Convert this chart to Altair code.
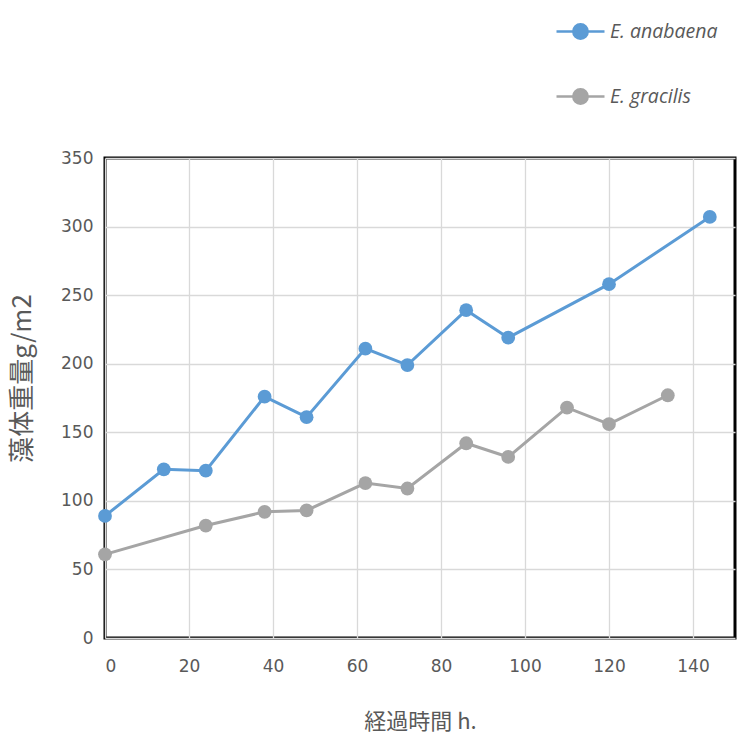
import altair as alt
import pandas as pd

series_names = ["E. anabaena", "E. gracilis"]
colors = ["#5B9BD5", "#A5A5A5"]

ana_hours = [0, 14, 24, 38, 48, 62, 72, 86, 96, 120, 144]
ana_values = [89, 123, 122, 176, 161, 211, 199, 239, 219, 258, 307]

gra_hours = [0, 24, 38, 48, 62, 72, 86, 96, 110, 120, 134]
gra_values = [61, 82, 92, 93, 113, 109, 142, 132, 168, 156, 177]

x_title = "経過時間 h."
y_title = "藻体重量g/m2"

rows = []
for h, v in zip(ana_hours, ana_values):
    rows.append({"series": series_names[0], "hour": h, "value": v})
for h, v in zip(gra_hours, gra_values):
    rows.append({"series": series_names[1], "hour": h, "value": v})
df = pd.DataFrame(rows)

legend_path = ("M -1 0 L -0.3 0 M 0.3 0 L 1 0 "
               "M -0.3 0 A 0.3 0.3 0 1 0 0.3 0 A 0.3 0.3 0 1 0 -0.3 0")

color = alt.Color(
    "series:N",
    scale=alt.Scale(domain=series_names, range=colors),
    legend=alt.Legend(
        title=None,
        orient="none",
        legendX=450,
        legendY=-152,
        direction="vertical",
        symbolType=legend_path,
        symbolSize=2304,
        symbolStrokeWidth=2.5,
        rowPadding=27,
        labelFont="Open Sans",
        labelFontStyle="italic",
        labelFontSize=19.5,
        labelColor="#595959",
        labelOffset=4,
    ),
)

x = alt.X(
    "hour:Q",
    scale=alt.Scale(domain=[0, 150], nice=False),
    axis=alt.Axis(
        values=[0, 20, 40, 60, 80, 100, 120, 140],
        title=x_title,
        titleFont="Noto Sans CJK JP",
        titleFontSize=22,
        titleFontWeight="normal",
        titleColor="#595959",
        titlePadding=37,
        labelFont="DejaVu Sans",
        labelFontSize=17,
        labelColor="#595959",
        labelPadding=20,
        ticks=False,
        domain=False,
        gridColor="#D9D9D9",
        gridWidth=1.3,
    ),
)

y = alt.Y(
    "value:Q",
    scale=alt.Scale(domain=[0, 350], nice=False),
    axis=alt.Axis(
        values=[0, 50, 100, 150, 200, 250, 300, 350],
        title=y_title,
        titleFont="Noto Sans CJK JP",
        titleFontSize=26,
        titleFontWeight="normal",
        titleColor="#595959",
        titleX=-83,
        titleY=220,
        titleAlign="center",
        titleBaseline="middle",
        labelFont="DejaVu Sans",
        labelFontSize=17,
        labelColor="#595959",
        labelPadding=12,
        ticks=False,
        domain=False,
        gridColor="#D9D9D9",
        gridWidth=1.3,
    ),
)

base = alt.Chart(df)
lines = base.mark_line(strokeWidth=3).encode(x=x, y=y, color=color, order="hour:Q")
points = base.mark_point(filled=True, size=190, opacity=1).encode(x=x, y=y, color=color)

chart = (
    alt.layer(lines, points)
    .properties(
        width=630,
        height=480,
        autosize=alt.AutoSizeParams(type="none"),
        padding={"left": 105, "top": 158, "right": 2, "bottom": 104},
        background="white",
    )
    .configure_view(stroke="#000000", strokeWidth=3)
)

chart.save("out.html", embed_options={"renderer": "svg", "actions": False})
